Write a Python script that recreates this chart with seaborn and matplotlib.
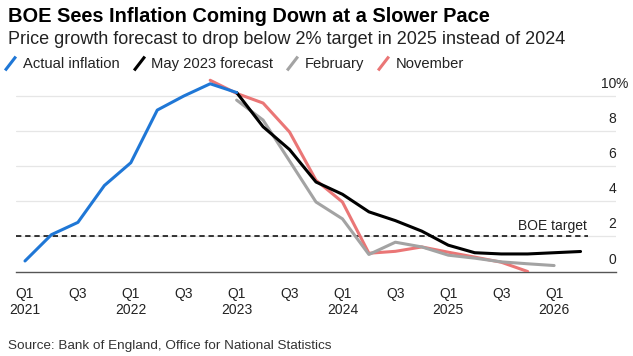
import matplotlib
matplotlib.use('Agg')
import matplotlib.pyplot as plt
import matplotlib.transforms as mtransforms
from matplotlib.lines import Line2D
import pandas as pd
import seaborn as sns

sns.set_theme(style='white')
plt.rcParams['font.family'] = ['Liberation Sans', 'DejaVu Sans']

# --- data (CPI, % y/y) ---
quarters = ['Q1 2021', 'Q2 2021', 'Q3 2021', 'Q4 2021',
            'Q1 2022', 'Q2 2022', 'Q3 2022', 'Q4 2022',
            'Q1 2023', 'Q2 2023', 'Q3 2023', 'Q4 2023',
            'Q1 2024', 'Q2 2024', 'Q3 2024', 'Q4 2024',
            'Q1 2025', 'Q2 2025', 'Q3 2025', 'Q4 2025',
            'Q1 2026', 'Q2 2026']
actual = [0.6, 2.1, 2.8, 4.9, 6.2, 9.2, 10.0, 10.7, 10.2]
may_2023 = [10.2, 8.25, 6.95, 5.1, 4.4, 3.4, 2.9, 2.3, 1.5, 1.07, 1.0, 1.0, 1.07, 1.14]
february = [9.77, 8.63, 6.3, 3.96, 3.0, 0.97, 1.67, 1.4, 0.93, 0.76, 0.55, 0.44, 0.34]
november = [10.9, 10.15, 9.6, 7.95, 5.2, 3.96, 1.04, 1.15, 1.4, 1.1, 0.82, 0.53, 0.0]
series_start = {'Actual inflation': 'Q1 2021', 'May 2023 forecast': 'Q1 2023',
                'February': 'Q1 2023', 'November': 'Q4 2022'}
series_values = {'Actual inflation': actual, 'May 2023 forecast': may_2023,
                 'February': february, 'November': november}
colors = {'Actual inflation': '#1f77d6', 'May 2023 forecast': '#000000',
          'February': '#a3a3a3', 'November': '#ea7676'}
tick_labels = ['Q1\n2021', 'Q3', 'Q1\n2022', 'Q3', 'Q1\n2023', 'Q3',
               'Q1\n2024', 'Q3', 'Q1\n2025', 'Q3', 'Q1\n2026']
y_ticks = [0, 2, 4, 6, 8, 10]
target = 2

rows = []
for name, vals in series_values.items():
    start = quarters.index(series_start[name])
    for i, v in enumerate(vals):
        rows.append({'series': name, 'q': start + i, 'value': v})
df = pd.DataFrame(rows)

W, H = 633, 356
fig = plt.figure(figsize=(W / 100, H / 100), dpi=100)
ax = fig.add_axes([16 / W, 84.5 / H, 600 / W, 193 / H])

for name in ['November', 'February', 'May 2023 forecast', 'Actual inflation']:
    sub = df[df['series'] == name]
    sns.lineplot(data=sub, x='q', y='value', color=colors[name], linewidth=2.2,
                 ax=ax, legend=False, zorder=3)

ax.set_xlim(-0.34, 22.34)
ax.set_ylim(0, 11)
for v in y_ticks[1:]:
    ax.axhline(v, color='#e6e6e6', linewidth=0.9, zorder=0)

for s in ['top', 'left', 'right']:
    ax.spines[s].set_visible(False)
ax.spines['bottom'].set_color('#555555')
ax.spines['bottom'].set_linewidth(1.0)

ax.set_xticks(range(0, 21, 2))
ax.set_xticklabels(tick_labels)
ax.tick_params(axis='x', length=4, width=1, color='#555555', pad=7,
               labelsize=10, labelcolor='#222222')
ax.set_yticks([])
ax.set_xlabel('')
ax.set_ylabel('')

trans = mtransforms.blended_transform_factory(ax.transAxes, ax.transData)
for v in y_ticks:
    ax.text(1.0, v + 0.68, str(v), transform=trans, ha='right', va='center',
            fontsize=10, color='#222222')
ax.text(1.0, 10.68, '%', transform=trans, ha='left', va='center',
        fontsize=10, color='#222222')

# BOE target
ax.axhline(target, xmin=0, xmax=572 / 600, color='black', linewidth=1.1,
           linestyle=(0, (3.5, 2.5)), zorder=2)
ax.text(571 / 600, target + 0.2, 'BOE target', transform=trans, ha='right',
        va='bottom', fontsize=10, color='#222222')

# titles
fig.text(8 / W, 1 - 16 / H, 'BOE Sees Inflation Coming Down at a Slower Pace',
         fontsize=14.4, fontweight='bold', va='center', ha='left', color='black')
fig.text(8 / W, 1 - 40 / H,
         'Price growth forecast to drop below 2% target in 2025 instead of 2024',
         fontsize=13, va='center', ha='left', color='#222222')
fig.text(8 / W, 1 - 346 / H, 'Source: Bank of England, Office for National Statistics',
         fontsize=9.7, va='center', ha='left', color='#333333')

handles = [Line2D([], [], color=colors[n], marker=[(-1, -1.3), (1, 1.3)],
                  linestyle='none', markersize=10, markeredgewidth=2.2)
           for n in series_values]
fig.legend(handles, list(series_values), loc='center left',
           bbox_to_anchor=(3 / W, 1 - 64 / H), ncol=4, frameon=False,
           handlelength=1.0, handletextpad=0.35, columnspacing=0.8,
           fontsize=10.6, borderpad=0, borderaxespad=0,
           labelcolor='#222222')

fig.savefig('out.png', dpi=100)
